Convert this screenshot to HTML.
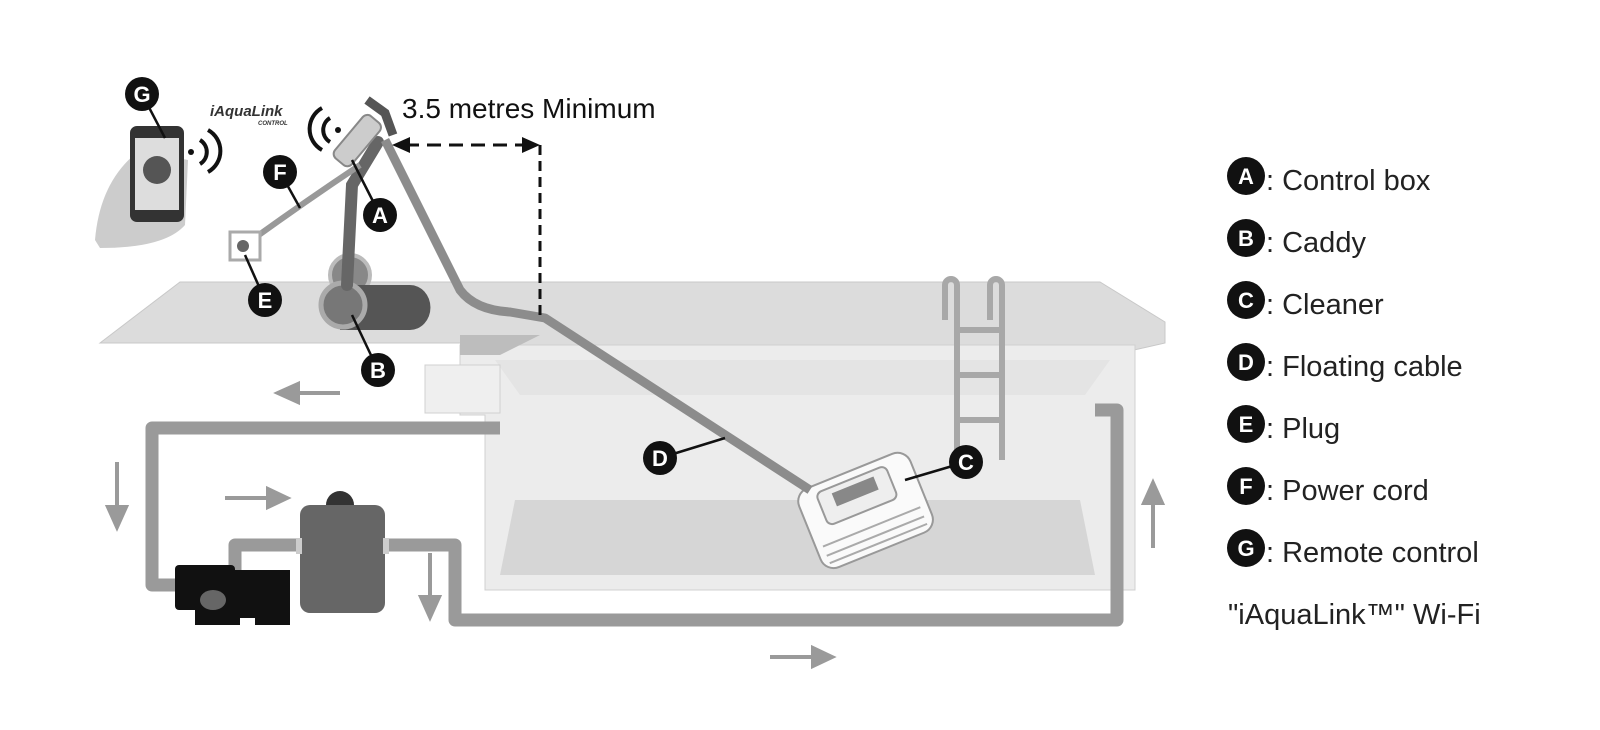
<!DOCTYPE html>
<html><head><style>
html,body{margin:0;padding:0;background:#fff;width:1600px;height:730px;overflow:hidden}
svg{display:block}
.lbl{font-family:"Liberation Sans",sans-serif;font-weight:bold;fill:#fff;font-size:22px;text-anchor:middle}
.leg{font-family:"Liberation Sans",sans-serif;font-size:29px;fill:#222}
</style></head><body>
<svg width="1600" height="730" viewBox="0 0 1600 730">
<!-- deck -->
<polygon points="100,343 180,282 1100,282 1165,322 1165,343 1125,352 500,352 480,343" fill="#dcdcdc" stroke="#c8c8c8"/>
<!-- pool body -->
<polygon points="460,345 1135,345 1135,590 485,590 485,415 460,415" fill="#ececec" stroke="#d0d0d0"/>
<polygon points="495,360 1110,360 1085,395 520,395" fill="#e4e4e4"/>
<polygon points="515,500 1080,500 1095,575 500,575" fill="#d6d6d6"/>
<polygon points="460,335 540,335 500,355 460,355" fill="#bdbdbd"/>
<rect x="425" y="365" width="75" height="48" fill="#efefef" stroke="#d0d0d0"/>
<!-- ladder -->
<g stroke="#a8a8a8" stroke-width="6" fill="none">
<path d="M945,320 V285 a6,6 0 0 1 12,0 V460"/><path d="M990,320 V285 a6,6 0 0 1 12,0 V460"/>
<path d="M957,330 H1002 M957,375 H1002 M957,420 H1002"/></g>
<!-- pipes -->
<g stroke="#9a9a9a" stroke-width="13" fill="none" stroke-linejoin="round">
<path d="M500,428 H152 V585 H190"/>
<path d="M235,575 V545 H300"/>
<path d="M385,545 H455 V620 H1117 V410 H1095"/>
</g>
<!-- arrows -->
<g fill="#9a9a9a" stroke="#9a9a9a" stroke-width="4">
<path d="M340,393 H295"/><polygon points="278,393 298,384 298,402"/>
<path d="M117,462 V510"/><polygon points="117,527 108,507 126,507"/>
<path d="M225,498 H270"/><polygon points="287,498 268,489 268,507"/>
<path d="M430,553 V600"/><polygon points="430,617 421,597 439,597"/>
<path d="M770,657 H815"/><polygon points="832,657 813,648 813,666"/>
<path d="M1153,548 V500"/><polygon points="1153,483 1144,503 1162,503"/>
</g>
<!-- pump -->
<g fill="#111"><rect x="175" y="565" width="60" height="45" rx="4"/><rect x="195" y="595" width="45" height="30"/>
<rect x="235" y="570" width="55" height="48"/><rect x="255" y="585" width="35" height="40"/></g>
<ellipse cx="213" cy="600" rx="13" ry="10" fill="#666"/>
<!-- filter -->
<circle cx="340" cy="505" r="14" fill="#333"/>
<rect x="300" y="505" width="85" height="108" rx="10" fill="#666"/>
<rect x="296" y="538" width="6" height="16" fill="#ccc"/><rect x="383" y="538" width="6" height="16" fill="#ccc"/>
<!-- cleaner -->
<g transform="rotate(-22 860 510)">
<rect x="805" y="470" width="120" height="85" rx="14" fill="#fafafa" stroke="#999" stroke-width="2"/>
<rect x="825" y="478" width="75" height="35" rx="6" fill="#eee" stroke="#999" stroke-width="2"/>
<rect x="840" y="484" width="45" height="14" fill="#888"/>
<path d="M812,530 h105 M812,540 h105 M812,548 h105" stroke="#aaa" stroke-width="2"/>
</g>
<!-- caddy -->
<circle cx="350" cy="275" r="20" fill="#888" stroke="#bbb" stroke-width="4"/>
<path d="M340,285 h70 a20,22 0 0 1 0,45 h-70 z" fill="#555"/>
<circle cx="343" cy="305" r="22" fill="#777" stroke="#aaa" stroke-width="5"/>
<path d="M347,285 L352,185 L378,142" stroke="#666" stroke-width="12" fill="none" stroke-linecap="round"/>
<path d="M367,100 L385,113 L393,135" stroke="#555" stroke-width="9" fill="none"/>
<rect x="330" y="130" width="55" height="22" rx="6" fill="#ccc" stroke="#888" stroke-width="2" transform="rotate(-50 357 141)"/>
<!-- floating cable -->
<path d="M385,140 L460,290 Q475,310 510,312 L545,318 L810,490" stroke="#8c8c8c" stroke-width="9" fill="none" stroke-linejoin="round"/>
<!-- power cord -->
<path d="M245,245 Q300,205 360,165" stroke="#999" stroke-width="6" fill="none"/>
<rect x="230" y="232" width="30" height="28" fill="#fff" stroke="#aaa" stroke-width="3"/>
<circle cx="243" cy="246" r="6" fill="#666"/>
<!-- phone -->
<path d="M95,240 Q100,180 140,150 L188,160 L185,225 Q165,248 100,248 z" fill="#ccc"/>
<rect x="130" y="126" width="54" height="96" rx="7" fill="#333"/>
<rect x="135" y="138" width="44" height="72" fill="#ddd"/>
<circle cx="157" cy="170" r="14" fill="#555"/>
<g stroke="#111" stroke-width="4" fill="none">
<path d="M200,140 a14,14 0 0 1 0,24"/><path d="M208,130 a24,24 0 0 1 0,42"/>
<path d="M330,118 a14,14 0 0 0 0,24"/><path d="M322,108 a24,24 0 0 0 0,42"/></g>
<circle cx="191" cy="152" r="3" fill="#111"/><circle cx="338" cy="130" r="3" fill="#111"/>
<text x="210" y="116" font-family="Liberation Sans" font-style="italic" font-weight="bold" font-size="15" fill="#333">iAquaLink</text>
<text x="258" y="125" font-family="Liberation Sans" font-style="italic" font-weight="bold" font-size="6" fill="#333">CONTROL</text>
<!-- dimension -->
<text x="402" y="118" font-family="Liberation Sans" font-size="28" fill="#111">3.5 metres Minimum</text>
<path d="M405,145 H525" stroke="#111" stroke-width="3" stroke-dasharray="14,8"/>
<polygon points="392,145 410,137 410,153" fill="#111"/><polygon points="540,145 522,137 522,153" fill="#111"/>
<path d="M540,145 V320" stroke="#111" stroke-width="3" stroke-dasharray="10,6"/>
<!-- label leader lines -->
<g stroke="#111" stroke-width="2.5">
<path d="M142,94 L165,138"/><path d="M280,172 L300,208"/><path d="M380,215 L352,160"/>
<path d="M265,300 L245,255"/><path d="M378,370 L352,315"/><path d="M660,458 L725,438"/><path d="M966,462 L905,480"/></g>
<g fill="#111">
<circle cx="142" cy="94" r="17"/><circle cx="280" cy="172" r="17"/><circle cx="380" cy="215" r="17"/>
<circle cx="265" cy="300" r="17"/><circle cx="378" cy="370" r="17"/><circle cx="660" cy="458" r="17"/><circle cx="966" cy="462" r="17"/></g>
<text class="lbl" x="142" y="102">G</text><text class="lbl" x="280" y="180">F</text><text class="lbl" x="380" y="223">A</text>
<text class="lbl" x="265" y="308">E</text><text class="lbl" x="378" y="378">B</text><text class="lbl" x="660" y="466">D</text><text class="lbl" x="966" y="470">C</text>
<!-- legend -->
<g fill="#111">
<circle cx="1246" cy="176" r="19"/><circle cx="1246" cy="238" r="19"/><circle cx="1246" cy="300" r="19"/>
<circle cx="1246" cy="362" r="19"/><circle cx="1246" cy="424" r="19"/><circle cx="1246" cy="486" r="19"/><circle cx="1246" cy="548" r="19"/></g>
<text class="lbl" x="1246" y="184">A</text><text class="lbl" x="1246" y="246">B</text><text class="lbl" x="1246" y="308">C</text>
<text class="lbl" x="1246" y="370">D</text><text class="lbl" x="1246" y="432">E</text><text class="lbl" x="1246" y="494">F</text><text class="lbl" x="1246" y="556">G</text>
<text class="leg" x="1266" y="190">: Control box</text>
<text class="leg" x="1266" y="252">: Caddy</text>
<text class="leg" x="1266" y="314">: Cleaner</text>
<text class="leg" x="1266" y="376">: Floating cable</text>
<text class="leg" x="1266" y="438">: Plug</text>
<text class="leg" x="1266" y="500">: Power cord</text>
<text class="leg" x="1266" y="562">: Remote control</text>
<text class="leg" x="1228" y="624">"iAquaLink™" Wi-Fi</text>
</svg>
</body></html>
